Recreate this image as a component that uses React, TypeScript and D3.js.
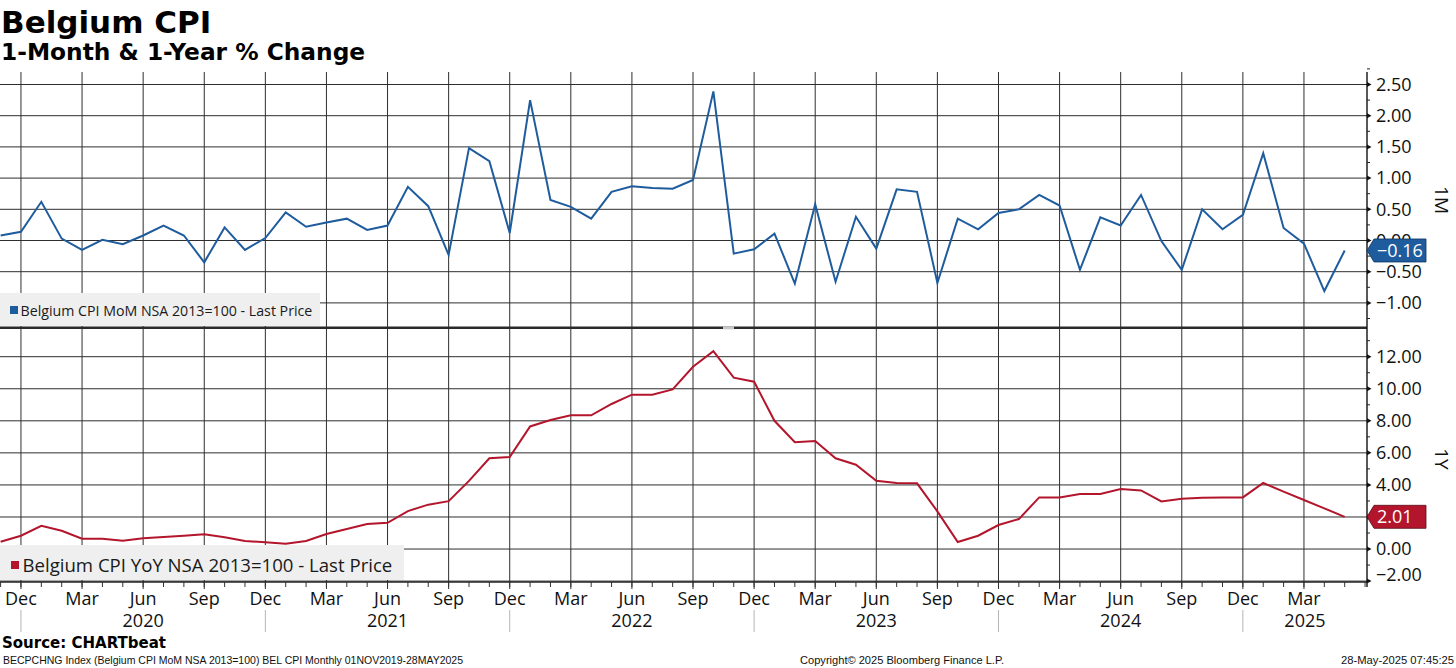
import React from "react";
import * as d3 from "d3";

// ---------- data ----------
const START_YEAR = 2019;
const START_MONTH = 10; // November (0-based)
const MONTH_NAMES = ["Jan", "Feb", "Mar", "Apr", "May", "Jun", "Jul", "Aug", "Sep", "Oct", "Nov", "Dec"];

// Belgium CPI MoM % (Nov 2019 .. May 2025)
const momValues = [
  0.08, 0.14,
  0.62, 0.03, -0.15, 0.01, -0.06, 0.08, 0.24, 0.08, -0.35, 0.21, -0.15, 0.04,
  0.45, 0.22, 0.29, 0.35, 0.17, 0.24, 0.86, 0.55, -0.23, 1.48, 1.27, 0.12,
  2.25, 0.65, 0.54, 0.35, 0.78, 0.87, 0.84, 0.83, 0.97, 2.39, -0.21, -0.14,
  0.11, -0.69, 0.58, -0.66, 0.38, -0.13, 0.82, 0.78, -0.68, 0.35, 0.18, 0.44,
  0.5, 0.73, 0.56, -0.47, 0.37, 0.24, 0.73, -0.01, -0.47, 0.5, 0.18, 0.41,
  1.4, 0.2, -0.05, -0.81, -0.16,
];

// Belgium CPI YoY % (Nov 2019 .. May 2025)
const yoyValues = [
  0.46, 0.83,
  1.45, 1.14, 0.64, 0.64, 0.52, 0.67, 0.75, 0.83, 0.92, 0.73, 0.5, 0.42,
  0.33, 0.5, 0.94, 1.25, 1.56, 1.64, 2.37, 2.77, 2.99, 4.25, 5.66, 5.74,
  7.65, 8.05, 8.34, 8.34, 9.05, 9.63, 9.63, 9.96, 11.37, 12.35, 10.69, 10.44,
  8.0, 6.67, 6.74, 5.66, 5.26, 4.26, 4.12, 4.1, 2.35, 0.44, 0.83, 1.5,
  1.87, 3.22, 3.22, 3.43, 3.43, 3.74, 3.66, 2.97, 3.14, 3.2, 3.22, 3.22,
  4.12, 3.58, 3.06, 2.54, 2.01,
];

const momTicks = [2.5, 2, 1.5, 1, 0.5, 0, -0.5, -1];
const yoyTicks = [12, 10, 8, 6, 4, 2, 0, -2];
const quarterMonths = [11, 2, 5, 8]; // Dec, Mar, Jun, Sep

const titleText = "Belgium CPI";
const subtitleText = "1-Month & 1-Year % Change";
const momLegend = "Belgium CPI MoM NSA 2013=100 - Last Price";
const yoyLegend = "Belgium CPI YoY NSA 2013=100 - Last Price";
const momAxisTitle = "1M";
const yoyAxisTitle = "1Y";
const sourceText = "Source: CHARTbeat";
const footerLeft = "BECPCHNG Index (Belgium CPI MoM NSA 2013=100) BEL CPI  Monthly 01NOV2019-28MAY2025";
const footerMid = "Copyright\u00A9 2025 Bloomberg Finance L.P.";
const footerRight = "28-May-2025 07:45:25";

// ---------- layout ----------
const W = 1456;
const H = 668;
const AXIS_X = 1367;
const TOP_Y0 = 72;
const BOT_Y1 = 582;

const BLUE = "#1f5c9e";
const RED = "#b3162c";
const GRID = "#2e2e2e";
const TICK_FONT = "'Open Sans', 'Noto Sans', sans-serif";
const TITLE_FONT = "'DejaVu Sans', Verdana, sans-serif";

export default function App() {
  const n = momValues.length;
  const x = d3.scaleLinear().domain([0, n - 1]).range([0.6, 0.6 + (n - 1) * 20.365]);
  const yTop = d3.scaleLinear().domain([-1, 2.5]).range([302.9, 84.5]);
  const yBot = d3.scaleLinear().domain([-2, 12]).range([581.1, 356.7]);
  const fmt = d3.format(".2f");

  const idx = d3.range(n);
  const monthOf = (i: number) => (START_MONTH + i) % 12;
  const yearOf = (i: number) => START_YEAR + Math.floor((START_MONTH + i) / 12);

  const quarterIdx = idx.filter((i) => quarterMonths.includes(monthOf(i)));
  const decIdx = idx.filter((i) => monthOf(i) === 11);

  const lineTop = d3.line<number>().x((_, i) => x(i)).y((d) => yTop(d));
  const lineBot = d3.line<number>().x((_, i) => x(i)).y((d) => yBot(d));

  // minor ticks
  const topMinor = d3.range(-1.25, 2.76, 0.25).filter((v) => Math.abs(v * 2 - Math.round(v * 2)) > 0.01);
  const botMinor = d3.range(-1, 14, 2);

  // year segments (Dec to Dec)
  const years = Array.from(new Set(decIdx.map((i) => yearOf(i) + 1)));
  const yearSegs = years.map((yr) => {
    const startI = decIdx.find((i) => yearOf(i) === yr - 1)!;
    const endI = decIdx.find((i) => yearOf(i) === yr);
    const x0 = x(startI);
    const x1 = endI !== undefined ? x(endI) : AXIS_X;
    return { yr, cx: (x0 + x1) / 2 };
  });

  const lastMom = momValues[n - 1];
  const lastYoy = yoyValues[n - 1];
  const tagTopY = yTop(lastMom) - 11.5;

  const tag = (cy: number) =>
    `M${AXIS_X},${cy} L${AXIS_X + 7},${cy - 11.5} L${1426},${cy - 11.5} L${1426},${cy + 11.5} L${AXIS_X + 7},${cy + 11.5} Z`;

  return (
    <svg
      width={W}
      height={H}
      viewBox={`0 0 ${W} ${H}`}
      style={{ position: "absolute", left: 0, top: 0, background: "#fff" }}
    >
      <defs>
        <clipPath id="zeroClip">
          <rect x={AXIS_X} y={200} width={80} height={tagTopY - 200} />
        </clipPath>
      </defs>
      <rect x={0} y={0} width={W} height={H} fill="#fff" />

      {/* titles */}
      <text x={1} y={33} fontFamily={TITLE_FONT} fontWeight="bold" fontSize={31} fill="#000">
        {titleText}
      </text>
      <text x={1} y={60} fontFamily={TITLE_FONT} fontWeight="bold" fontSize={23.3} fill="#000">
        {subtitleText}
      </text>

      {/* horizontal gridlines */}
      {momTicks.map((v) => (
        <line key={"ht" + v} x1={0} x2={AXIS_X} y1={yTop(v)} y2={yTop(v)} stroke={GRID} strokeWidth={1} />
      ))}
      {yoyTicks.map((v) => (
        <line key={"hb" + v} x1={0} x2={AXIS_X} y1={yBot(v)} y2={yBot(v)} stroke={GRID} strokeWidth={1} />
      ))}

      {/* vertical gridlines */}
      {quarterIdx.map((i) => (
        <line key={"v" + i} x1={x(i)} x2={x(i)} y1={TOP_Y0} y2={BOT_Y1 + 7} stroke={GRID} strokeWidth={1} />
      ))}

      {/* legend boxes (cover gridlines) */}
      <rect x={0} y={293} width={320} height={33} fill="#efefef" />
      <rect x={10} y={306} width={8} height={8} fill={BLUE} />
      <text x={20.5} y={316} fontFamily={TICK_FONT} fontSize={14.2} fill="#1a1a1a">
        {momLegend}
      </text>

      <rect x={0} y={545} width={404} height={35} fill="#efefef" />
      <rect x={11} y={561} width={8} height={8} fill={RED} />
      <text x={22.5} y={572} fontFamily={TICK_FONT} fontSize={18.6} fill="#1a1a1a">
        {yoyLegend}
      </text>

      {/* data lines */}
      <path d={lineTop(momValues) || ""} fill="none" stroke={BLUE} strokeWidth={2} strokeLinejoin="miter" />
      <path d={lineBot(yoyValues) || ""} fill="none" stroke={RED} strokeWidth={2} strokeLinejoin="miter" />

      {/* panel separator */}
      <line x1={0} x2={AXIS_X} y1={327.8} y2={327.8} stroke="#2a2a2a" strokeWidth={2.6} />
      <rect x={723} y={326.3} width={11} height={3} fill="#c8c8c8" />

      {/* x axis */}
      <line x1={0} x2={AXIS_X} y1={BOT_Y1} y2={BOT_Y1} stroke="#222" strokeWidth={1.4} />
      {d3.range(0, n + 1).map((i) =>
        x(i) <= AXIS_X ? (
          <line key={"mt" + i} x1={x(i)} x2={x(i)} y1={BOT_Y1} y2={BOT_Y1 + 5} stroke="#333" strokeWidth={1} />
        ) : null
      )}
      {quarterIdx.map((i) => (
        <text
          key={"ml" + i}
          x={x(i)}
          y={605}
          textAnchor="middle"
          fontFamily={TICK_FONT}
          fontSize={18}
          fill="#111"
        >
          {MONTH_NAMES[monthOf(i)]}
        </text>
      ))}
      {decIdx.map((i) => (
        <line key={"ys" + i} x1={x(i)} x2={x(i)} y1={610} y2={632} stroke="#b5b5b5" strokeWidth={1} />
      ))}
      {yearSegs.map((s) => (
        <text key={"yl" + s.yr} x={s.cx} y={627} textAnchor="middle" fontFamily={TICK_FONT} fontSize={18} fill="#111">
          {s.yr}
        </text>
      ))}

      {/* right axis */}
      <line x1={AXIS_X} x2={AXIS_X} y1={TOP_Y0} y2={BOT_Y1 + 5} stroke="#111" strokeWidth={1.4} />
      {topMinor.map((v) => (
        <line key={"tm" + v} x1={AXIS_X} x2={AXIS_X + 3} y1={yTop(v)} y2={yTop(v)} stroke="#222" strokeWidth={1} />
      ))}
      {botMinor.map((v) => (
        <line key={"bm" + v} x1={AXIS_X} x2={AXIS_X + 3} y1={yBot(v)} y2={yBot(v)} stroke="#222" strokeWidth={1} />
      ))}
      {momTicks.map((v) => (
        <g key={"tl" + v}>
          <path d={`M${AXIS_X},${yTop(v) - 2.5} L${AXIS_X + 4.5},${yTop(v)} L${AXIS_X},${yTop(v) + 2.5} Z`} fill="#111" />
          <text
            x={1376}
            y={yTop(v)}
            dy="0.35em"
            fontFamily={TICK_FONT}
            fontSize={18}
            fill="#111"
            clipPath={v === 0 ? "url(#zeroClip)" : undefined}
          >
            {fmt(v)}
          </text>
        </g>
      ))}
      {yoyTicks.map((v) => (
        <g key={"bl" + v}>
          <path d={`M${AXIS_X},${yBot(v) - 2.5} L${AXIS_X + 4.5},${yBot(v)} L${AXIS_X},${yBot(v) + 2.5} Z`} fill="#111" />
          <text
            x={1376}
            y={v === -2 ? yBot(v) - 6 : yBot(v)}
            dy="0.35em"
            fontFamily={TICK_FONT}
            fontSize={18}
            fill="#111"
          >
            {fmt(v)}
          </text>
        </g>
      ))}

      {/* last value tags */}
      <path d={tag(yTop(lastMom))} fill={BLUE} stroke="#0d3360" strokeWidth={0.8} />
      <text x={1377} y={yTop(lastMom)} dy="0.35em" fontFamily={TICK_FONT} fontSize={18} fill="#fff">
        {fmt(lastMom)}
      </text>
      <path d={tag(yBot(lastYoy))} fill={RED} stroke="#5a0a14" strokeWidth={0.8} />
      <text x={1377} y={yBot(lastYoy)} dy="0.35em" fontFamily={TICK_FONT} fontSize={18} fill="#fff">
        {fmt(lastYoy)}
      </text>

      {/* axis titles */}
      <text
        transform={`translate(1435,200) rotate(90)`}
        textAnchor="middle"
        fontFamily={TICK_FONT}
        fontSize={19}
        fill="#111"
      >
        {momAxisTitle}
      </text>
      <text
        transform={`translate(1435,459) rotate(90)`}
        textAnchor="middle"
        fontFamily={TICK_FONT}
        fontSize={19}
        fill="#111"
      >
        {yoyAxisTitle}
      </text>

      {/* footer */}
      <text x={2} y={648} fontFamily={TITLE_FONT} fontWeight="bold" fontSize={15} fill="#000">
        {sourceText}
      </text>
      <text
        x={3}
        y={664}
        fontFamily="'Liberation Sans', Arial, sans-serif"
        fontSize={10.5}
        fill="#111"
        textLength={460}
        lengthAdjust="spacingAndGlyphs"
      >
        {footerLeft}
      </text>
      <text
        x={800}
        y={664}
        fontFamily="'Liberation Sans', Arial, sans-serif"
        fontSize={10.5}
        fill="#111"
        textLength={204}
        lengthAdjust="spacingAndGlyphs"
      >
        {footerMid}
      </text>
      <text
        x={1341}
        y={664}
        fontFamily="'Liberation Sans', Arial, sans-serif"
        fontSize={10.5}
        fill="#111"
        textLength={113}
        lengthAdjust="spacingAndGlyphs"
      >
        {footerRight}
      </text>
    </svg>
  );
}
